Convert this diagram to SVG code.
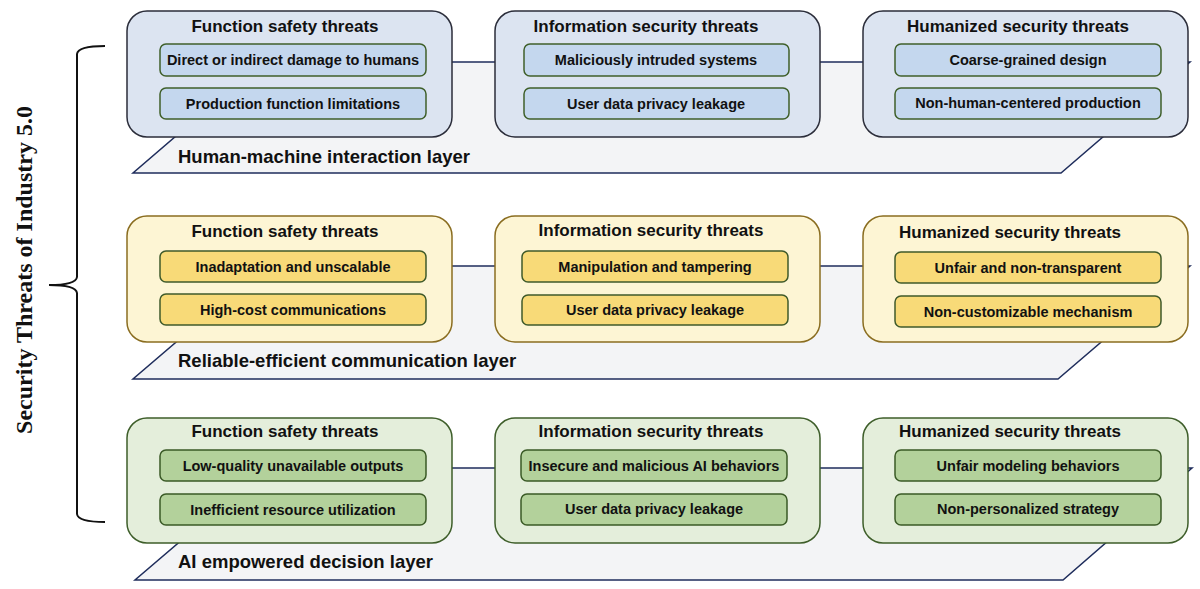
<svg xmlns="http://www.w3.org/2000/svg" width="1200" height="589" viewBox="0 0 1200 589">
<style>
.plane{fill:#f3f4f6;stroke:#1f2d5c;stroke-width:1.5}
.box{stroke-width:1.5}
.b1{fill:#dce4f1;stroke:#2b2d3a}
.b2{fill:#fdf5d4;stroke:#8a6d20}
.b3{fill:#e4eedb;stroke:#3e5e2a}
.i1{fill:#c4d7ee;stroke:#3f5f2a;stroke-width:1.5}
.i2{fill:#f8da78;stroke:#3f5a2a;stroke-width:1.5}
.i3{fill:#b3d19b;stroke:#3a5a26;stroke-width:1.5}
text{font-family:"Liberation Sans",Arial,sans-serif;font-weight:bold;fill:#111}
.t{font-size:17px;text-anchor:middle}
.s{font-size:14.5px;text-anchor:middle}
.l{font-size:18.5px}
.v{font-family:"Liberation Serif","Times New Roman",serif;font-size:24px;text-anchor:middle}
</style>
<g id="connectors">
<path class="plane" d="M262,62 L1190,62 L1061,173 L133,173 Z"/>
<path class="plane" d="M265,266 L1190,266 L1058,379 L133,379 Z"/>
<path class="plane" d="M266,468 L1192,468 L1063,580 L135,580 Z"/>
<path d="M105,46 Q78,46 77,54 L77,277 Q76,285 49,285 Q76,285 77,293 L77,514 Q78,522 105,522" fill="none" stroke="#111" stroke-width="2"/>
</g>
<g id="title"><text class="v" transform="translate(32,270) rotate(-90)">Security Threats of Industry 5.0</text></g>
<g id="layer1-label"><text class="l" x="178" y="163">Human-machine interaction layer</text></g>
<g id="layer2-label"><text class="l" x="178" y="367">Reliable-efficient communication layer</text></g>
<g id="layer3-label"><text class="l" x="178" y="568">AI empowered decision layer</text></g>

<g id="hm-function">
<rect class="box b1" x="127" y="11" width="325" height="126" rx="20"/>
<text class="t" x="285" y="32">Function safety threats</text>
<rect class="i1" x="160" y="44" width="266" height="32" rx="6"/>
<text class="s" x="293" y="65">Direct or indirect damage to humans</text>
<rect class="i1" x="160" y="88" width="266" height="31" rx="6"/>
<text class="s" x="293" y="109">Production function limitations</text>
</g>
<g id="hm-information">
<rect class="box b1" x="495" y="11" width="325" height="126" rx="20"/>
<text class="t" x="646" y="32">Information security threats</text>
<rect class="i1" x="524" y="44" width="265" height="32" rx="6"/>
<text class="s" x="656" y="65">Maliciously intruded systems</text>
<rect class="i1" x="524" y="88" width="265" height="31" rx="6"/>
<text class="s" x="656" y="109">User data privacy leakage</text>
</g>
<g id="hm-humanized">
<rect class="box b1" x="863" y="11" width="325" height="126" rx="20"/>
<text class="t" x="1018" y="32">Humanized security threats</text>
<rect class="i1" x="895" y="44" width="266" height="32" rx="6"/>
<text class="s" x="1028" y="65">Coarse-grained design</text>
<rect class="i1" x="895" y="88" width="266" height="31" rx="6"/>
<text class="s" x="1028" y="108">Non-human-centered production</text>
</g>

<g id="rc-function">
<rect class="box b2" x="127" y="216" width="325" height="126" rx="20"/>
<text class="t" x="285" y="237">Function safety threats</text>
<rect class="i2" x="160" y="251" width="266" height="31" rx="6"/>
<text class="s" x="293" y="272">Inadaptation and unscalable</text>
<rect class="i2" x="160" y="294" width="266" height="31" rx="6"/>
<text class="s" x="293" y="315">High-cost communications</text>
</g>
<g id="rc-information">
<rect class="box b2" x="495" y="216" width="325" height="126" rx="20"/>
<text class="t" x="651" y="236">Information security threats</text>
<rect class="i2" x="522" y="251" width="266" height="31" rx="6"/>
<text class="s" x="655" y="272">Manipulation and tampering</text>
<rect class="i2" x="522" y="295" width="266" height="30" rx="6"/>
<text class="s" x="655" y="315">User data privacy leakage</text>
</g>
<g id="rc-humanized">
<rect class="box b2" x="863" y="216" width="325" height="126" rx="20"/>
<text class="t" x="1010" y="238">Humanized security threats</text>
<rect class="i2" x="895" y="252" width="266" height="31" rx="6"/>
<text class="s" x="1028" y="273">Unfair and non-transparent</text>
<rect class="i2" x="895" y="296" width="266" height="31" rx="6"/>
<text class="s" x="1028" y="317">Non-customizable mechanism</text>
</g>

<g id="ai-function">
<rect class="box b3" x="127" y="418" width="325" height="125" rx="20"/>
<text class="t" x="285" y="437">Function safety threats</text>
<rect class="i3" x="160" y="450" width="266" height="31" rx="6"/>
<text class="s" x="293" y="471">Low-quality unavailable outputs</text>
<rect class="i3" x="160" y="494" width="266" height="31" rx="6"/>
<text class="s" x="293" y="515">Inefficient resource utilization</text>
</g>
<g id="ai-information">
<rect class="box b3" x="495" y="418" width="325" height="125" rx="20"/>
<text class="t" x="651" y="437">Information security threats</text>
<rect class="i3" x="521" y="450" width="266" height="31" rx="6"/>
<text class="s" x="654" y="471">Insecure and malicious AI behaviors</text>
<rect class="i3" x="521" y="494" width="266" height="31" rx="6"/>
<text class="s" x="654" y="514">User data privacy leakage</text>
</g>
<g id="ai-humanized">
<rect class="box b3" x="863" y="418" width="325" height="125" rx="20"/>
<text class="t" x="1010" y="437">Humanized security threats</text>
<rect class="i3" x="895" y="450" width="266" height="31" rx="6"/>
<text class="s" x="1028" y="471">Unfair modeling behaviors</text>
<rect class="i3" x="895" y="494" width="266" height="31" rx="6"/>
<text class="s" x="1028" y="514">Non-personalized strategy</text>
</g>
</svg>
